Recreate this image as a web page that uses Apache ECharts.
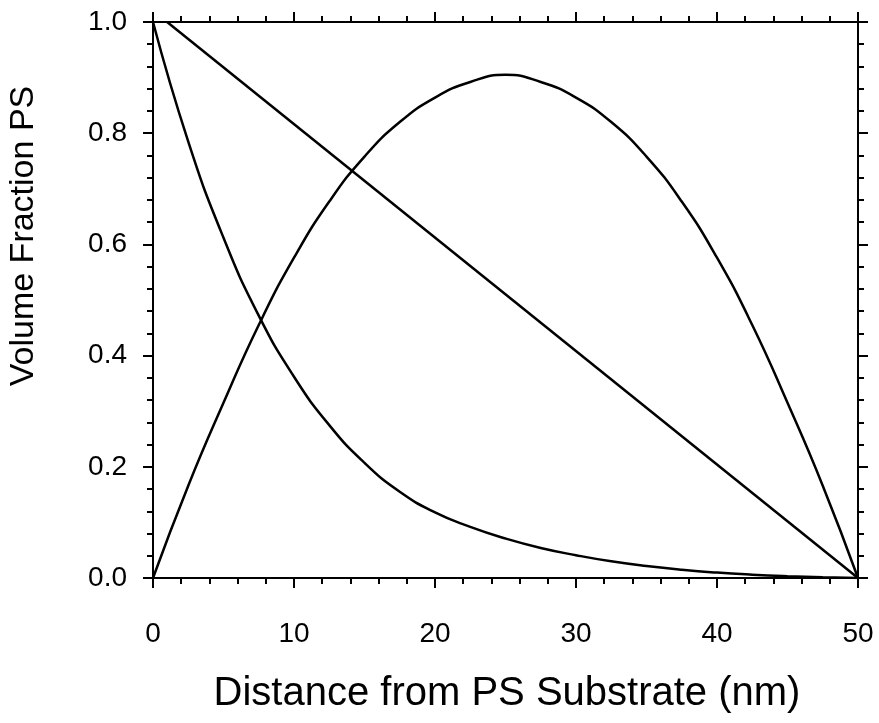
<!DOCTYPE html>
<html>
<head>
<meta charset="utf-8">
<script src="https://cdn.jsdelivr.net/npm/echarts@6/dist/echarts.min.js"></script>
<style>
html,body{margin:0;padding:0;background:#fff;}
#chart{width:879px;height:723px;}
</style>
</head>
<body>
<div id="chart"></div>
<script>
// Data
var linearX = [1, 50];
var linearY = [1.0, 0.0];

var curveX = [0, 2.5, 5, 7.5, 10, 12.5, 15, 17.5, 20, 22.5, 25, 27.5, 30, 32.5, 35, 37.5, 40, 42.5, 45, 47.5, 50];
var archY = [0, 0.166, 0.315, 0.455, 0.576, 0.677, 0.758, 0.82, 0.864, 0.892, 0.905, 0.892, 0.864, 0.82, 0.758, 0.677, 0.576, 0.455, 0.315, 0.166, 0];
var decayY = [1.0, 0.785, 0.612, 0.472, 0.362, 0.275, 0.207, 0.155, 0.118, 0.092, 0.071, 0.054, 0.041, 0.030, 0.0215, 0.0148, 0.0097, 0.006, 0.0033, 0.0014, 0];

var xTicks = [0, 10, 20, 30, 40, 50];
var yTicks = [0.0, 0.2, 0.4, 0.6, 0.8, 1.0];

var xTitle = 'Distance from PS Substrate (nm)';
var yTitle = 'Volume Fraction PS';

function pairs(xs, ys) { return xs.map(function (x, i) { return [x, ys[i]]; }); }

var FONT = '"Liberation Sans", Arial, Helvetica, sans-serif';

var chart = echarts.init(document.getElementById('chart'), null, {renderer: 'canvas'});

function xAxisCfg(pos, showLabel) {
  return {
    type: 'value', position: pos, min: xTicks[0], max: xTicks[xTicks.length - 1], interval: 10,
    axisLine: {show: true, onZero: false, lineStyle: {color: '#000', width: 2}},
    axisTick: {show: true, inside: false, length: 10, lineStyle: {color: '#000', width: 2}},
    minorTick: {show: true, splitNumber: 5, length: 6, lineStyle: {color: '#000', width: 2}},
    splitLine: {show: false},
    axisLabel: {show: showLabel, color: '#000', fontSize: 28, fontFamily: FONT, margin: 42}
  };
}
function yAxisCfg(pos, showLabel) {
  return {
    type: 'value', position: pos, min: yTicks[0], max: yTicks[yTicks.length - 1], interval: 0.2,
    axisLine: {show: true, onZero: false, lineStyle: {color: '#000', width: 2}},
    axisTick: {show: true, inside: false, length: 10, lineStyle: {color: '#000', width: 2}},
    minorTick: {show: true, splitNumber: 5, length: 6, lineStyle: {color: '#000', width: 2}},
    splitLine: {show: false},
    axisLabel: {show: showLabel, color: '#000', fontSize: 28, fontFamily: FONT, margin: 26,
      formatter: function (v) { return v.toFixed(1); }}
  };
}

var lineStyle = {color: '#000', width: 2.5};

chart.setOption({
  backgroundColor: '#fff',
  animation: false,
  grid: {left: 153, right: 21, top: 22, bottom: 145, containLabel: false},
  xAxis: [xAxisCfg('bottom', true), xAxisCfg('top', false)],
  yAxis: [yAxisCfg('left', true), yAxisCfg('right', false)],
  graphic: [
    {type: 'text', x: 507, y: 694, style: {text: xTitle, fill: '#000', font: '40px ' + FONT, textAlign: 'center', textVerticalAlign: 'middle'}},
    {type: 'text', x: 24, y: 236, rotation: Math.PI / 2, style: {text: yTitle, fill: '#000', font: '34px ' + FONT, textAlign: 'center', textVerticalAlign: 'middle'}}
  ],
  series: [
    {type: 'line', xAxisIndex: 0, yAxisIndex: 0, data: pairs(linearX, linearY), showSymbol: false, lineStyle: lineStyle, z: 3},
    {type: 'line', xAxisIndex: 0, yAxisIndex: 0, data: pairs(curveX, archY), smooth: 0.5, showSymbol: false, lineStyle: lineStyle, z: 3},
    {type: 'line', xAxisIndex: 0, yAxisIndex: 0, data: pairs(curveX, decayY), smooth: 0.5, showSymbol: false, lineStyle: lineStyle, z: 3}
  ]
});
</script>
</body>
</html>
